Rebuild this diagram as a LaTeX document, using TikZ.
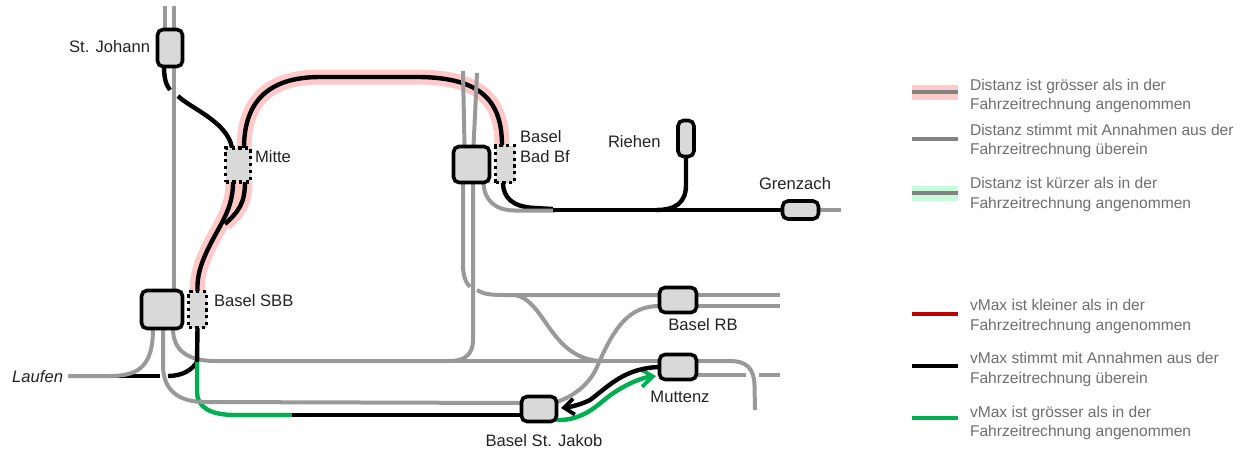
\documentclass[tikz,border=0pt]{standalone}
\usepackage{fontspec}
\setmainfont{Liberation Sans}
\usetikzlibrary{arrows.meta}
\pgfdeclarelayer{tracks}
\pgfsetlayers{tracks,main}
\definecolor{trgray}{HTML}{999999}
\definecolor{trgreen}{HTML}{00B050}
\definecolor{trred}{HTML}{C00000}
\definecolor{pinkband}{HTML}{FFC9C9}
\definecolor{greenband}{HTML}{C6FADB}
\definecolor{boxfill}{HTML}{D9D9D9}
\definecolor{legtext}{HTML}{6E6E6E}
\definecolor{labtext}{HTML}{222222}
\tikzset{
 x=1pt,y=-1pt,
 stn/.style={draw=black,fill=boxfill,line width=3.6pt,rounded corners=5.5pt,inner sep=0pt,outer sep=0pt},
 dotstn/.style={draw=black,fill=boxfill,line width=3.4pt,dash pattern=on 3.2pt off 3.6pt,inner sep=0pt,outer sep=0pt},
 gr/.style={draw=trgray,line width=4pt},
 bk/.style={draw=black,line width=4.4pt},
 gn/.style={draw=trgreen,line width=4.4pt},
 pk/.style={draw=pinkband,line width=15pt},
 lab/.style={font=\fontsize{16.6}{19}\selectfont,text=labtext,inner sep=0pt,outer sep=0pt},
 leg/.style={font=\fontsize{15.6}{19.5}\selectfont,text=legtext,inner sep=0pt,outer sep=0pt,anchor=west,align=left},
 legline/.style={line width=4pt},
}
\begin{document}
\begin{tikzpicture}
\useasboundingbox (0,0) rectangle (1244,448);
% stations
\node[stn,minimum width=25pt,minimum height=37pt] (joh) at (170,48) {};
\node[dotstn,minimum width=25pt,minimum height=34pt] (mit) at (238,165) {};
\node[dotstn,minimum width=18pt,minimum height=36pt] (sbbd) at (197.5,309.5) {};
\node[stn,minimum width=41pt,minimum height=38pt] (sbb) at (162,309.5) {};
\node[dotstn,minimum width=19pt,minimum height=37pt] (badd) at (505,164) {};
\node[stn,minimum width=36pt,minimum height=36pt] (bad) at (471.5,164.5) {};
\node[stn,minimum width=16pt,minimum height=36pt] (rie) at (686,138.5) {};
\node[stn,minimum width=36pt,minimum height=18pt] (gre) at (800.5,210) {};
\node[stn,minimum width=37pt,minimum height=25pt] (rb) at (678,300) {};
\node[stn,minimum width=37pt,minimum height=25pt] (mut) at (678,367) {};
\node[stn,minimum width=35pt,minimum height=25pt] (jak) at (539,409) {};
% free ends
\coordinate (john1) at (165,6);
\coordinate (john2) at (174,6);
\coordinate (badn1) at (463,71);
\coordinate (badn2) at (477,73);
\coordinate (lau) at (68,376);
\coordinate (greE) at (841,210);
\coordinate (rbE1) at (780,295);
\coordinate (rbE2) at (780,306);
\coordinate (mutE) at (780,375);
\coordinate (mutS) at (755,410);
% labels
\node[lab,anchor=east] (l1) at (150,47) {St. Johann};
\node[lab,anchor=west] (l2) at (255,157) {Mitte};
\node[lab,anchor=west] (l3) at (214,301) {Basel SBB};
\node[lab,anchor=west] (l4) at (520,137) {Basel};
\node[lab,anchor=west] (l5) at (520,157) {Bad Bf};
\node[lab,anchor=west] (l6) at (608,142) {Riehen};
\node[lab,anchor=center] (l7) at (795,184) {Grenzach};
\node[lab,anchor=center] (l8) at (703,325) {Basel RB};
\node[lab,anchor=center] (l9) at (680,397) {Muttenz};
\node[lab,anchor=center] (l10) at (544,441) {Basel St. Jakob};
\node[lab,anchor=east,font=\fontsize{16.6}{19}\selectfont\itshape] (l11) at (63,377) {Laufen};
% legend text
\node[leg] (t1) at (970,96) {Distanz ist grösser als in der\\Fahrzeitrechnung angenommen};
\node[leg] (t2) at (970,141) {Distanz stimmt mit Annahmen aus der\\Fahrzeitrechnung überein};
\node[leg] (t3) at (970,194.5) {Distanz ist kürzer als in der\\Fahrzeitrechnung angenommen};
\node[leg] (t4) at (970,316.5) {vMax ist kleiner als in der\\Fahrzeitrechnung angenommen};
\node[leg] (t5) at (970,369.5) {vMax stimmt mit Annahmen aus der\\Fahrzeitrechnung überein};
\node[leg] (t6) at (970,423) {vMax ist grösser als in der\\Fahrzeitrechnung angenommen};
% legend lines
\coordinate (a1) at (912,92); \coordinate (b1) at (958,92);
\coordinate (a2) at (912,139); \coordinate (b2) at (958,139);
\coordinate (a3) at (912,193); \coordinate (b3) at (958,193);
\coordinate (a4) at (912,314); \coordinate (b4) at (958,314);
\coordinate (a5) at (912,366); \coordinate (b5) at (958,366);
\coordinate (a6) at (912,418); \coordinate (b6) at (958,418);
\draw[draw=pinkband,line width=15pt] (a1)--(b1);
\draw[draw=greenband,line width=15pt] (a3)--(b3);
\draw[draw=trgray!85!black,legline] (a1)--(b1);
\draw[draw=trgray!85!black,legline] (a2)--(b2);
\draw[draw=trgray!85!black,legline] (a3)--(b3);
\draw[draw=trred,legline] (a4)--(b4);
\draw[draw=black,legline] (a5)--(b5);
\draw[draw=trgreen,legline] (a6)--(b6);
\begin{pgfonlayer}{tracks}
% pink bands
\draw[pk] (sbbd.north) .. controls (197,275) and (200,262) .. (218,230) .. controls (228,212) and (233,200) .. ([xshift=-5pt]mit.south);
\draw[pk] (225,224) .. controls (238,212) and (245,204) .. ([xshift=7pt]mit.south);
\draw[pk] ([xshift=6pt]mit.north) .. controls (244,105) and (265,77) .. (320,77) -- (420,77) .. controls (480,78) and (502,100) .. ([xshift=-3pt]badd.north);
% black main
\draw[bk] (sbbd.north) .. controls (197,275) and (200,262) .. (218,230) .. controls (228,212) and (233,200) .. ([xshift=-5pt]mit.south);
\draw[bk] (225,224) .. controls (238,212) and (245,204) .. ([xshift=7pt]mit.south);
\draw[bk] ([xshift=6pt]mit.north) .. controls (244,105) and (265,77) .. (320,77) -- (420,77) .. controls (480,78) and (502,100) .. ([xshift=-3pt]badd.north);
\draw[bk] ([xshift=-6pt]joh.south) .. controls (164,78) and (166,85) .. (170,90);
\draw[bk] (178,96) .. controls (190,108) and (228,122) .. ([xshift=-6pt]mit.north);
% gray northern tracks
\draw[gr] (john1) -- ([xshift=-5pt]joh.north);
\draw[gr] (john2) -- ([xshift=4pt]joh.north);
\draw[gr] ([xshift=4pt]joh.south) -- ([xshift=12pt]sbb.north);
\draw[gr] (badn1) -- ([xshift=-7pt]bad.north);
\draw[gr] (badn2) -- ([xshift=2pt]bad.north);
% Bad Bf south
\draw[bk] ([xshift=-2pt]badd.south) .. controls (503,198) and (513,207) .. (535,208) -- (553,209);
\draw[gr] ([xshift=12pt]bad.south) .. controls (484,200) and (495,210.5) .. (515,210.5) -- (555,210.5);
\draw[bk] (553,210) -- (gre.west);
\draw[bk] (rie.south) -- (686,185) .. controls (686,203) and (675,210) .. (656,210);
\draw[gr] (gre.east) -- (greE);
% Bad south verticals
\draw[gr] ([xshift=-8.5pt]bad.south) -- (463,265) .. controls (463,276) and (466,283) .. (470,287);
\draw[gr] (477,290) .. controls (483,294) and (490,295) .. (505,295) -- ([yshift=5pt]rb.west);
\draw[gr] ([xshift=1.5pt]bad.south) -- (473,340) .. controls (473,354) and (465,361) .. (450,361) -- (215,361) .. controls (190,361) and (173,352) .. ([xshift=11pt]sbb.south);
\draw[gr] (450,361) -- ([yshift=6pt]mut.west);
% S curve
\draw[gr] (515,295) .. controls (545,300) and (550,358) .. (600,361);
% RB
\draw[gr] ([yshift=-6pt]rb.west) .. controls (630,306) and (615,325) .. (597,367) .. controls (590,383) and (575,396) .. ([yshift=7pt]jak.east);
\draw[gr] ([yshift=5pt]rb.east) -- (rbE1);
\draw[gr] ([yshift=-6pt]rb.east) -- (rbE2);
% Muttenz east
\draw[gr] ([yshift=6pt]mut.east) -- (730,361) .. controls (746,361) and (754,368) .. (754.5,385) -- (mutS);
\draw[gr] ([yshift=-8pt]mut.east) -- (746,375);
\draw[gr] (759,375) -- (mutE);
% Laufen and SBB south
\draw[bk] (113,376) -- (160,376);
\draw[bk] (168,376) .. controls (182,376) and (192,370) .. (197,362);
\draw[bk] (sbbd.south) -- (197,364);
\draw[gn] (197,362) -- (197,392) .. controls (197,407) and (210,415) .. (235,415) -- (292,415);
\draw[bk] (292,415) -- ([yshift=-6pt]jak.west);
\draw[gr] (lau) -- (110,376) .. controls (140,376) and (153,365) .. ([xshift=-9pt]sbb.south);
\draw[gr] ([xshift=1pt]sbb.south) -- (163,365) .. controls (163,390) and (178,402) .. (205,402) -- ([yshift=6pt]jak.west);
% Muttenz - St. Jakob
\draw[gn,-{Straight Barb[length=12pt,width=18pt,line width=3.8pt]}] ([yshift=-11pt]jak.east) .. controls (585,421) and (600,402) .. (612,394) .. controls (625,385) and (640,378) .. (656,376);
\draw[bk,-{Straight Barb[length=10pt,width=16pt,line width=3.8pt]}] (mut.west) .. controls (625,368) and (610,385) .. (590,400) .. controls (580,405) and (570,407) .. (561,408);
\end{pgfonlayer}
\end{tikzpicture}
\end{document}
